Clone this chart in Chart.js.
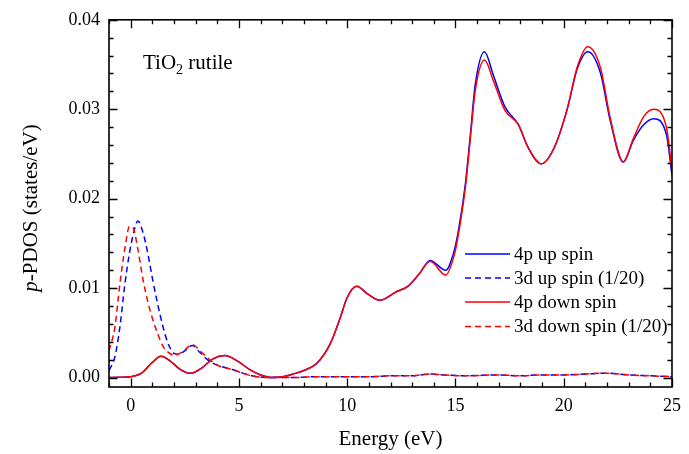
<!DOCTYPE html>
<html><head><meta charset="utf-8">
<script src="https://cdn.jsdelivr.net/npm/chart.js@4"></script>
<style>html,body{margin:0;padding:0;background:#fff}#wrap{width:689px;height:454px}</style>
</head><body><div id="wrap"><canvas id="c" width="689" height="454"></canvas></div>
<script>
const energy4p=[-1,-0.5,0,0.5,1.0,1.4,1.8,2.3,2.77,3.3,3.8,4.36,4.9,5.5,6.0,6.5,7.0,7.5,8.0,8.6,9.22,9.68,9.99,10.44,10.97,11.5,12.27,12.8,13.33,13.83,14.55,14.92,15.12,15.46,15.69,15.91,16.34,16.75,17.28,17.9,18.36,18.96,19.56,20.17,20.62,21.11,21.69,22.15,22.75,23.21,23.7,24.15,24.74,25];
const up4p=[0,0.00003,0.0001,0.0005,0.0017,0.00238,0.0019,0.0009,0.00048,0.0011,0.0021,0.00246,0.0019,0.0009,0.0003,0.00002,0.0001,0.0004,0.0008,0.0016,0.0038,0.0067,0.0089,0.0102,0.0093,0.00864,0.0096,0.0102,0.0116,0.0131,0.0120,0.0140,0.0162,0.0217,0.0272,0.0327,0.03644,0.0338,0.0303,0.0283,0.0257,0.0239,0.0257,0.0301,0.0345,0.03644,0.0341,0.0287,0.0241,0.0265,0.0283,0.02895,0.0272,0.0226];
const down4p=[0,0.00003,0.0001,0.0005,0.0017,0.00238,0.0019,0.0009,0.00048,0.0011,0.0021,0.00246,0.0019,0.0009,0.0003,0.00002,0.0001,0.0004,0.0008,0.0016,0.0038,0.0067,0.0089,0.0102,0.0093,0.00864,0.0096,0.0102,0.0116,0.0130,0.01146,0.0135,0.0158,0.0213,0.0268,0.0320,0.0355,0.0332,0.0299,0.0283,0.0257,0.0239,0.0257,0.0301,0.0347,0.0370,0.0347,0.0290,0.0241,0.0267,0.0292,0.0300,0.0280,0.0232];
const energy3d=[-1,-0.73,-0.5,-0.27,-0.05,0.1,0.33,0.56,0.79,1.02,1.25,1.47,1.7,2.0,2.2,2.5,2.85,3.2,3.6,4.0,4.7,5.6,6.5,7.5,8.5,10,11,12,13,13.8,14.5,15.5,17,18,19,20,21,22,23,24,25];
const up3d=[0.0008,0.0023,0.0056,0.0104,0.0140,0.0158,0.0175,0.0163,0.0139,0.0109,0.0082,0.0059,0.0040,0.0027,0.0026,0.0030,0.0036,0.0028,0.0019,0.0014,0.0009,0.0002,0.0000,0.0000,0.0001,0.0001,0.0001,0.0002,0.0002,0.0004,0.0003,0.0002,0.0003,0.0002,0.0003,0.0003,0.0004,0.0005,0.0003,0.0002,0.0001];
const down3d=[0.0030,0.0056,0.0104,0.0144,0.0169,0.0168,0.0144,0.0111,0.0085,0.0065,0.0049,0.0036,0.0029,0.0025,0.0026,0.0031,0.0037,0.0030,0.0021,0.0014,0.0009,0.0002,0.0000,0.0000,0.0001,0.0001,0.0001,0.0002,0.0002,0.0004,0.0003,0.0002,0.0003,0.0002,0.0003,0.0003,0.0004,0.0005,0.0003,0.0002,0.0001];
const xTicks=[0,5,10,15,20,25];
const yTicks=[0,0.01,0.02,0.03,0.04];
const seriesNames=['4p up spin','3d up spin (1/20)','4p down spin','3d down spin (1/20)'];
const xTitle='Energy (eV)';
const yTitleItalic='p';
const yTitleRest='-PDOS (states/eV)';
const noteMain='TiO', noteSub='2', noteRest=' rutile';

const BLUE='#0000ff', RED='#ff0000', DASH=[6,4];
const pts=(xs,ys)=>xs.map((v,i)=>({x:v,y:ys[i]}));
const FONT='"Liberation Serif","Times New Roman",serif';

const deco={id:'deco',afterDatasetsDraw(chart){
  const {ctx,chartArea:a,scales:{x,y}}=chart;
  ctx.save();
  ctx.strokeStyle='#000';ctx.lineWidth=1.6;ctx.setLineDash([]);
  ctx.strokeRect(a.left,a.top,a.right-a.left,a.bottom-a.top);
  ctx.lineWidth=1.3;ctx.beginPath();
  for(let v=-1;v<=25;v++){
    const px=Math.round(x.getPixelForValue(v))+0.5;
    const L=xTicks.includes(v)?8.5:4.5;
    ctx.moveTo(px,a.bottom);ctx.lineTo(px,a.bottom-L);
    ctx.moveTo(px,a.top);ctx.lineTo(px,a.top+L);
  }
  for(let i=0;i<=20;i++){
    const py=Math.round(y.getPixelForValue(i*0.002))+0.5;
    const L=(i%5===0)?8.5:4.5;
    ctx.moveTo(a.left,py);ctx.lineTo(a.left+L,py);
    ctx.moveTo(a.right,py);ctx.lineTo(a.right-L,py);
  }
  ctx.stroke();
  // legend
  ctx.font='19px '+FONT;ctx.textBaseline='middle';ctx.fillStyle='#000';
  const rows=[254,278,302,326.5];
  chart.data.datasets.forEach((d,i)=>{
    ctx.strokeStyle=d.borderColor;ctx.lineWidth=1.5;ctx.setLineDash(d.borderDash||[]);
    ctx.beginPath();ctx.moveTo(465,rows[i]);ctx.lineTo(510,rows[i]);ctx.stroke();
    ctx.setLineDash([]);
    ctx.fillText(d.label,514,rows[i]+1);
  });
  // note
  ctx.textBaseline='alphabetic';
  ctx.font='21px '+FONT;
  let nx=143;const ny=69;
  ctx.fillText(noteMain,nx,ny);nx+=ctx.measureText(noteMain).width;
  ctx.font='14px '+FONT;ctx.fillText(noteSub,nx,ny+5);nx+=ctx.measureText(noteSub).width;
  ctx.font='21px '+FONT;ctx.fillText(noteRest,nx,ny);
  // x title
  ctx.textAlign='center';ctx.font='21px '+FONT;
  ctx.fillText(xTitle,(a.left+a.right)/2,445);
  // y title
  ctx.translate(37,208);ctx.rotate(-Math.PI/2);
  ctx.textAlign='left';
  ctx.font='italic 21px '+FONT;const w1=ctx.measureText(yTitleItalic).width;
  ctx.font='21px '+FONT;const w2=ctx.measureText(yTitleRest).width;
  let sx=-(w1+w2)/2;
  ctx.font='italic 21px '+FONT;ctx.fillText(yTitleItalic,sx,0);
  ctx.font='21px '+FONT;ctx.fillText(yTitleRest,sx+w1,0);
  ctx.restore();
}};

new Chart(document.getElementById('c'),{
  type:'line',
  data:{datasets:[
    {label:seriesNames[0],data:pts(energy4p,up4p),borderColor:BLUE,order:1},
    {label:seriesNames[1],data:pts(energy3d,up3d),borderColor:BLUE,borderDash:DASH,order:1},
    {label:seriesNames[2],data:pts(energy4p,down4p),borderColor:RED,order:0},
    {label:seriesNames[3],data:pts(energy3d,down3d),borderColor:RED,borderDash:DASH,order:0}
  ]},
  options:{
    responsive:false,animation:false,devicePixelRatio:1,
    layout:{padding:{left:0,top:13,right:10,bottom:0}},
    elements:{point:{radius:0},line:{borderWidth:1.5,cubicInterpolationMode:'monotone',fill:false}},
    plugins:{legend:{display:false},tooltip:{enabled:false}},
    scales:{
      x:{type:'linear',min:-1,max:25,
        grid:{display:false,drawTicks:false},border:{display:false},
        afterBuildTicks:s=>{s.ticks=xTicks.map(v=>({value:v}));},
        afterFit:s=>{s.height=67;},
        ticks:{padding:8,color:'#000',font:{family:FONT,size:18},maxRotation:0,autoSkip:false,callback:v=>String(v)}},
      y:{type:'linear',min:-0.00105,max:0.04,
        grid:{display:false,drawTicks:false},border:{display:false},
        afterBuildTicks:s=>{s.ticks=yTicks.map(v=>({value:v}));},
        afterFit:s=>{s.width=109;},
        ticks:{padding:9,color:'#000',font:{family:FONT,size:18},callback:v=>Number(v).toFixed(2)}}
    }
  },
  plugins:[deco]
});
</script></body></html>
